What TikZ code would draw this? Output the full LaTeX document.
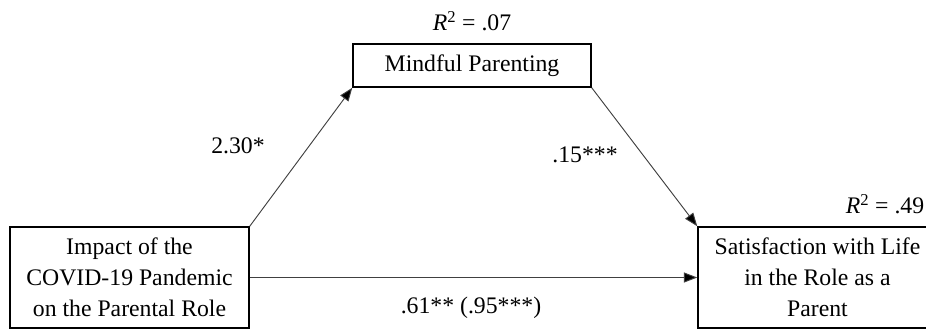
\documentclass[tikz,border=0pt]{standalone}
\usepackage{fontspec}
\setmainfont{Liberation Serif}
\usetikzlibrary{arrows.meta}
\begin{document}
\begin{tikzpicture}[x=0.75pt,y=-0.75pt,
  box/.style={draw=black,line width=1.1pt,inner sep=0pt,align=center,
    font=\fontsize{17.8pt}{23.25pt}\selectfont},
  lbl/.style={inner sep=0pt,font=\fontsize{17.8pt}{23.25pt}\selectfont},
  conn/.style={draw=black!75,line width=0.7pt,-{Triangle[length=10pt,width=7.5pt,fill=black]}}]
\useasboundingbox (0,0) rectangle (926,329);
\clip (0,0) rectangle (926,329);
\node[box,minimum width=179.25pt,minimum height=75.75pt] (iv) at (129.5,277.5)
  {Impact of the\\COVID-19 Pandemic\\on the Parental Role};
\node[box,minimum width=178.5pt,minimum height=32.25pt] (med) at (472,65.5)
  {Mindful Parenting};
\node[box,minimum width=179.25pt,minimum height=75.75pt] (dv) at (817.5,277.5)
  {Satisfaction with Life\\in the Role as a\\Parent};
\draw[conn] (iv.north east) -- (med.south west);
\draw[conn] (med.south east) -- (dv.north west);
\draw[conn] (iv.east) -- (dv.west);
\node[lbl] (r1) at (472,21) {\textit{R}\textsuperscript{2} = .07};
\node[lbl] (r2) at (885,204) {\textit{R}\textsuperscript{2} = .49};
\node[lbl] (a) at (238,146) {2.30*};
\node[lbl] (b) at (585,155) {.15***};
\node[lbl] (c) at (471,308) {.61** (.95***)};
\end{tikzpicture}
\end{document}
